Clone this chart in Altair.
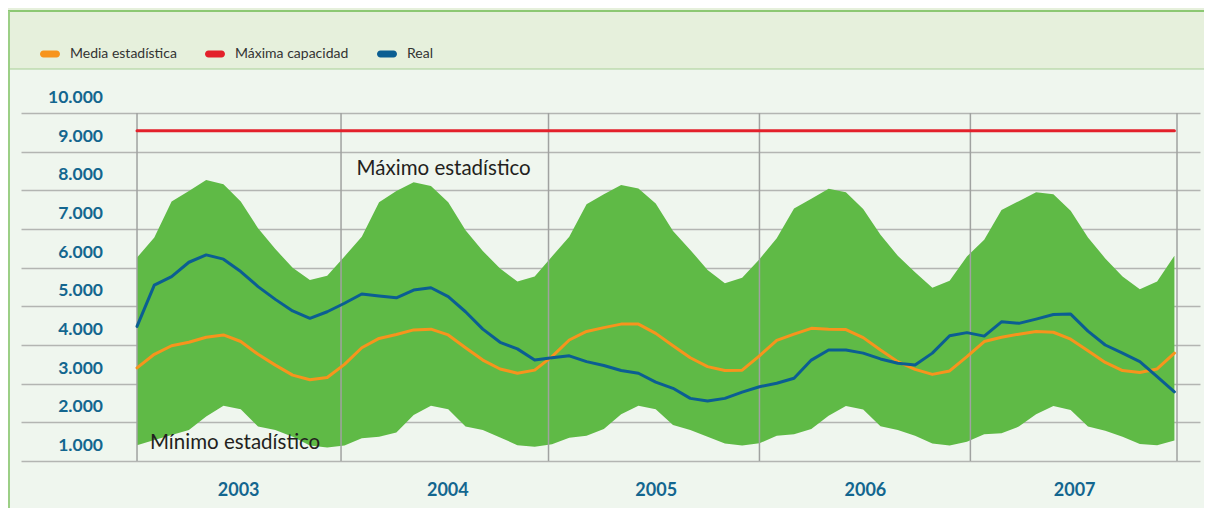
import altair as alt
import pandas as pd

# ---------------- data ----------------
mes = list(range(61))  # monthly points, Jan 2003 .. Jan 2008

max_est = [6260, 6780, 7710, 7980, 8270, 8160, 7710, 7020, 6480, 6000, 5680, 5790,
           6290, 6800, 7690, 7980, 8210, 8110, 7690, 6970, 6430, 5980, 5640, 5770,
           6290, 6800, 7640, 7900, 8140, 8050, 7660, 6950, 6460, 5940, 5600, 5740,
           6220, 6760, 7530, 7780, 8040, 7950, 7520, 6850, 6310, 5880, 5480, 5660,
           6290, 6720, 7490, 7720, 7950, 7900, 7470, 6780, 6240, 5770, 5440, 5640,
           6310]

min_est = [1410, 1540, 1670, 1800, 2150, 2430, 2340, 1890, 1800, 1630, 1400, 1350,
           1400, 1590, 1630, 1740, 2190, 2430, 2340, 1890, 1800, 1610, 1410, 1370,
           1430, 1600, 1650, 1830, 2210, 2430, 2340, 1930, 1800, 1630, 1450, 1400,
           1460, 1650, 1690, 1830, 2170, 2420, 2330, 1900, 1800, 1650, 1450, 1400,
           1500, 1690, 1720, 1890, 2210, 2420, 2320, 1890, 1780, 1630, 1440, 1410,
           1530]

media = [3410, 3760, 3980, 4070, 4200, 4260, 4090, 3760, 3480, 3220, 3100, 3160,
         3500, 3930, 4170, 4270, 4390, 4410, 4260, 3930, 3610, 3380, 3270, 3350,
         3700, 4130, 4350, 4450, 4540, 4540, 4300, 3980, 3670, 3440, 3340, 3350,
         3720, 4120, 4280, 4430, 4410, 4400, 4190, 3870, 3570, 3370, 3240, 3330,
         3700, 4090, 4200, 4280, 4350, 4330, 4150, 3850, 3550, 3340, 3290, 3380,
         3790]

real = [4480, 5550, 5770, 6140, 6330, 6220, 5900, 5510, 5180, 4880, 4690, 4860,
        5080, 5320, 5270, 5220, 5420, 5480, 5250, 4860, 4410, 4070, 3900, 3610,
        3670, 3720, 3570, 3470, 3340, 3270, 3040, 2880, 2620, 2550, 2620, 2780,
        2920, 3010, 3140, 3610, 3870, 3870, 3790, 3640, 3530, 3480, 3790, 4240,
        4320, 4230, 4600, 4560, 4670, 4790, 4800, 4360, 4000, 3790, 3570, 3180,
        2790]

capacidad = 9540

series = ["Media estadística", "Máxima capacidad", "Real"]
colores = ["#f7941d", "#e3212b", "#0b5e92"]

anios = ["2003", "2004", "2005", "2006", "2007"]
centro_anio = [5.85, 17.95, 30.0, 42.1, 54.2]
separadores = [0, 11.8, 23.8, 36.0, 48.2, 60.15]
y_ticks = [1000, 2000, 3000, 4000, 5000, 6000, 7000, 8000, 9000, 10000]
y_tick_labels = ["1.000", "2.000", "3.000", "4.000", "5.000",
                 "6.000", "7.000", "8.000", "9.000", "10.000"]
y_label_pos = -1.97  # where the tick labels end, in month units

notas_txt = ["Máximo estadístico", "Mínimo estadístico"]
notas_x = [12.7, 0.75]
notas_y = [8550, 1465]

# ---------------- tables ----------------
df_band = pd.DataFrame({"mes": mes, "min": min_est, "max": max_est})
rows = []
for m in mes:
    rows.append({"mes": m, "serie": "Máxima capacidad", "valor": capacidad})
for m, v in zip(mes, media):
    rows.append({"mes": m, "serie": "Media estadística", "valor": v})
for m, v in zip(mes, real):
    rows.append({"mes": m, "serie": "Real", "valor": v})
df_lines = pd.DataFrame(rows)
df_sep = pd.DataFrame({"x": separadores})
df_notas = pd.DataFrame({"x": notas_x, "y": notas_y, "t": notas_txt})
df_ylab = pd.DataFrame({"v": y_ticks, "t": y_tick_labels})

FONT = "Lato"
AXIS_BLUE = "#13668f"
PILL = ("M-0.65,-0.35L0.65,-0.35A0.35,0.35,0,0,1,0.65,0.35"
        "L-0.65,0.35A0.35,0.35,0,0,1,-0.65,-0.35Z")

x_scale = alt.Scale(domain=[-6.71, 61.48], nice=False, zero=False)
y_scale = alt.Scale(domain=[1000, 10000], nice=False, zero=False)
color_scale = alt.Scale(domain=series, range=colores)

x_label_expr = ("[" + ",".join("'%s'" % a for a in anios) + "][indexof(["
                + ",".join(str(c) for c in centro_anio) + "], datum.value)]")

x_axis = alt.Axis(values=centro_anio, labelExpr=x_label_expr, domain=False, ticks=False,
                  grid=False, labelFont=FONT, labelFontWeight="bold", labelFontSize=18,
                  labelColor=AXIS_BLUE, labelPadding=20, labelFlush=False,
                  labelOverlap=False, tickCount=10, title=None)
y_axis = alt.Axis(values=y_ticks, tickCount=20, grid=True, gridColor="#b3b5b2",
                  gridWidth=1.5, domain=False, ticks=False, labels=False, title=None)

legend = alt.Legend(title=None, orient="none", legendX=19, legendY=-69,
                    direction="horizontal", symbolType=PILL, symbolStrokeWidth=0,
                    symbolSize=400, labelFont=FONT, labelFontSize=14,
                    labelColor="#333333", labelOffset=10, columnPadding=28, padding=0)

one = alt.Data(values=[{}])

header = alt.Chart(one).mark_rect(color="#e6f0dc").encode(
    x=alt.value(-13), x2=alt.value(1183), y=alt.value(-105), y2=alt.value(-44))
top_border = alt.Chart(one).mark_rule(color="#8cc873", strokeWidth=2).encode(
    x=alt.value(-13), x2=alt.value(1183), y=alt.value(-102))
header_line = alt.Chart(one).mark_rule(color="#a8d096", strokeWidth=1).encode(
    x=alt.value(-13), x2=alt.value(1183), y=alt.value(-44))
left_border = alt.Chart(one).mark_rule(color="#9ccf86", strokeWidth=2).encode(
    x=alt.value(-12), y=alt.value(-102), y2=alt.value(395))

band = alt.Chart(df_band).mark_area(color="#5fba46", opacity=1).encode(
    x=alt.X("mes:Q", scale=x_scale, axis=x_axis),
    y=alt.Y("min:Q", scale=y_scale, axis=y_axis),
    y2="max:Q",
)

seps = alt.Chart(df_sep).mark_rule(color="#a0a2a0", strokeWidth=1.5).encode(
    x=alt.X("x:Q", scale=x_scale),
    y=alt.datum(10000), y2=alt.datum(1000),
)


def line_layer(name):
    col = colores[series.index(name)]
    return alt.Chart(df_lines).transform_filter(alt.datum.serie == name).mark_line(
        strokeWidth=3, strokeCap="round", strokeJoin="round", color=col).encode(
        x=alt.X("mes:Q", scale=x_scale),
        y=alt.Y("valor:Q", scale=y_scale),
    )


# invisible (empty) layer that only provides the legend with pill symbols
legend_layer = alt.Chart(df_lines).transform_filter("false").mark_point(
    filled=True, shape=PILL, opacity=1).encode(
    x=alt.X("mes:Q", scale=x_scale),
    y=alt.Y("valor:Q", scale=y_scale),
    fill=alt.Fill("serie:N", scale=color_scale, legend=legend),
)

notas = alt.Chart(df_notas).mark_text(align="left", baseline="middle", font=FONT,
                                      fontSize=20.5, color="#231f20").encode(
    x=alt.X("x:Q", scale=x_scale), y=alt.Y("y:Q", scale=y_scale), text="t:N")

ylabs = alt.Chart(df_ylab).mark_text(align="right", baseline="middle", dy=-15,
                                     font=FONT, fontWeight="bold", fontSize=17.5,
                                     color=AXIS_BLUE).encode(
    x=alt.datum(y_label_pos), y=alt.Y("v:Q", scale=y_scale), text="t:N")

chart = alt.layer(
    header, top_border, header_line, left_border, band, seps,
    line_layer("Máxima capacidad"), line_layer("Media estadística"), line_layer("Real"),
    legend_layer, notas, ylabs,
).properties(
    width=1179, height=348,
    autosize=alt.AutoSizeParams(type="none"),
    padding={"left": 13, "top": 105, "right": 4, "bottom": 47},
    background="#eff6ee",
).configure_view(stroke=None)

chart.save("out.html", embed_options={"renderer": "svg", "actions": False})
